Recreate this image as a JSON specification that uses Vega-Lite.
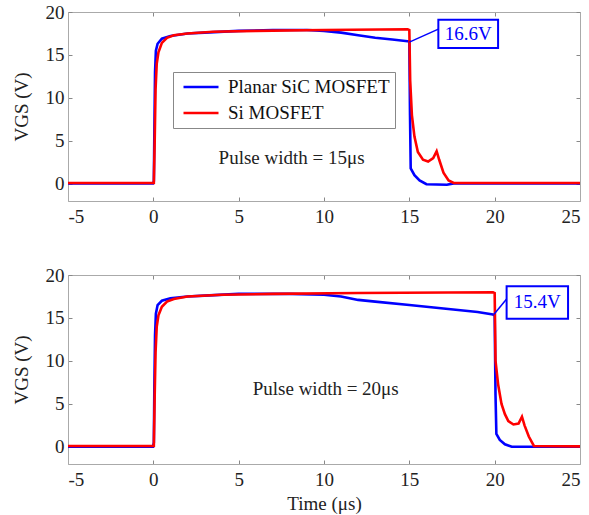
{
  "$schema": "https://vega.github.io/schema/vega-lite/v6.json",
  "background": "white",
  "padding": {"left": 12, "top": 3, "right": 5, "bottom": 5},
  "config": {
    "font": "Liberation Serif",
    "view": {"stroke": null},
    "axis": {
      "labelFont": "Liberation Serif", "labelFontSize": 19, "labelColor": "#222",
      "titleFont": "Liberation Serif", "titleFontSize": 19, "titleFontWeight": "normal", "titleColor": "#222",
      "domainColor": "#aaa", "tickColor": "#888", "tickSize": -4, "grid": false,
      "labelExpr": "replace(datum.label, '−', '-')"
    },
    "axisX": {"labelPadding": 10},
    "axisY": {"labelPadding": 8},
    "text": {"font": "Liberation Serif"}
  },
  "datasets": {
    "p15": [
      {"series": "Planar SiC MOSFET", "t": -5, "v": 0.05},
      {"series": "Planar SiC MOSFET", "t": -0.02, "v": 0.05},
      {"series": "Planar SiC MOSFET", "t": 0.03, "v": 0.3},
      {"series": "Planar SiC MOSFET", "t": 0.06, "v": 6},
      {"series": "Planar SiC MOSFET", "t": 0.1, "v": 13},
      {"series": "Planar SiC MOSFET", "t": 0.15, "v": 15.5},
      {"series": "Planar SiC MOSFET", "t": 0.25, "v": 16.3},
      {"series": "Planar SiC MOSFET", "t": 0.5, "v": 16.9},
      {"series": "Planar SiC MOSFET", "t": 1, "v": 17.2},
      {"series": "Planar SiC MOSFET", "t": 2, "v": 17.5},
      {"series": "Planar SiC MOSFET", "t": 3, "v": 17.6},
      {"series": "Planar SiC MOSFET", "t": 5, "v": 17.8},
      {"series": "Planar SiC MOSFET", "t": 7, "v": 17.9},
      {"series": "Planar SiC MOSFET", "t": 9, "v": 17.9},
      {"series": "Planar SiC MOSFET", "t": 10, "v": 17.8},
      {"series": "Planar SiC MOSFET", "t": 11, "v": 17.6},
      {"series": "Planar SiC MOSFET", "t": 12, "v": 17.3},
      {"series": "Planar SiC MOSFET", "t": 13, "v": 17.0},
      {"series": "Planar SiC MOSFET", "t": 14, "v": 16.8},
      {"series": "Planar SiC MOSFET", "t": 14.9, "v": 16.6},
      {"series": "Planar SiC MOSFET", "t": 15.0, "v": 16.6},
      {"series": "Planar SiC MOSFET", "t": 15.04, "v": 8},
      {"series": "Planar SiC MOSFET", "t": 15.08, "v": 1.8},
      {"series": "Planar SiC MOSFET", "t": 15.3, "v": 1.0},
      {"series": "Planar SiC MOSFET", "t": 15.6, "v": 0.4},
      {"series": "Planar SiC MOSFET", "t": 16.0, "v": -0.05},
      {"series": "Planar SiC MOSFET", "t": 17.2, "v": -0.1},
      {"series": "Planar SiC MOSFET", "t": 17.6, "v": 0.05},
      {"series": "Planar SiC MOSFET", "t": 25, "v": 0.05},
      {"series": "Si MOSFET", "t": -5, "v": 0.1},
      {"series": "Si MOSFET", "t": 0.03, "v": 0.1},
      {"series": "Si MOSFET", "t": 0.08, "v": 5},
      {"series": "Si MOSFET", "t": 0.13, "v": 11},
      {"series": "Si MOSFET", "t": 0.2, "v": 14},
      {"series": "Si MOSFET", "t": 0.3, "v": 15.3},
      {"series": "Si MOSFET", "t": 0.5, "v": 16.4},
      {"series": "Si MOSFET", "t": 0.8, "v": 17.0},
      {"series": "Si MOSFET", "t": 1.2, "v": 17.3},
      {"series": "Si MOSFET", "t": 2, "v": 17.5},
      {"series": "Si MOSFET", "t": 3.5, "v": 17.7},
      {"series": "Si MOSFET", "t": 6, "v": 17.8},
      {"series": "Si MOSFET", "t": 10, "v": 17.9},
      {"series": "Si MOSFET", "t": 14.9, "v": 18.0},
      {"series": "Si MOSFET", "t": 15.0, "v": 17.9},
      {"series": "Si MOSFET", "t": 15.05, "v": 12},
      {"series": "Si MOSFET", "t": 15.15, "v": 8},
      {"series": "Si MOSFET", "t": 15.3, "v": 5.5},
      {"series": "Si MOSFET", "t": 15.5, "v": 3.7},
      {"series": "Si MOSFET", "t": 15.8, "v": 2.8},
      {"series": "Si MOSFET", "t": 16.1, "v": 2.6},
      {"series": "Si MOSFET", "t": 16.4, "v": 3.0},
      {"series": "Si MOSFET", "t": 16.6, "v": 3.8},
      {"series": "Si MOSFET", "t": 16.75, "v": 2.8},
      {"series": "Si MOSFET", "t": 17.0, "v": 1.3},
      {"series": "Si MOSFET", "t": 17.3, "v": 0.4},
      {"series": "Si MOSFET", "t": 17.6, "v": 0.1},
      {"series": "Si MOSFET", "t": 25, "v": 0.1}
    ],
    "p20": [
      {"series": "Planar SiC MOSFET", "t": -5, "v": 0},
      {"series": "Planar SiC MOSFET", "t": -0.02, "v": 0},
      {"series": "Planar SiC MOSFET", "t": 0.03, "v": 0.5},
      {"series": "Planar SiC MOSFET", "t": 0.06, "v": 7},
      {"series": "Planar SiC MOSFET", "t": 0.1, "v": 13},
      {"series": "Planar SiC MOSFET", "t": 0.15, "v": 15.5},
      {"series": "Planar SiC MOSFET", "t": 0.25, "v": 16.5},
      {"series": "Planar SiC MOSFET", "t": 0.5, "v": 17.0},
      {"series": "Planar SiC MOSFET", "t": 1, "v": 17.3},
      {"series": "Planar SiC MOSFET", "t": 2, "v": 17.5},
      {"series": "Planar SiC MOSFET", "t": 3, "v": 17.6},
      {"series": "Planar SiC MOSFET", "t": 5, "v": 17.8},
      {"series": "Planar SiC MOSFET", "t": 8, "v": 17.8},
      {"series": "Planar SiC MOSFET", "t": 10, "v": 17.7},
      {"series": "Planar SiC MOSFET", "t": 11, "v": 17.5},
      {"series": "Planar SiC MOSFET", "t": 12, "v": 17.1},
      {"series": "Planar SiC MOSFET", "t": 13, "v": 16.9},
      {"series": "Planar SiC MOSFET", "t": 15, "v": 16.5},
      {"series": "Planar SiC MOSFET", "t": 17, "v": 16.1},
      {"series": "Planar SiC MOSFET", "t": 19, "v": 15.7},
      {"series": "Planar SiC MOSFET", "t": 19.9, "v": 15.4},
      {"series": "Planar SiC MOSFET", "t": 20.0, "v": 15.3},
      {"series": "Planar SiC MOSFET", "t": 20.05, "v": 6},
      {"series": "Planar SiC MOSFET", "t": 20.1, "v": 1.5},
      {"series": "Planar SiC MOSFET", "t": 20.3, "v": 0.8},
      {"series": "Planar SiC MOSFET", "t": 20.6, "v": 0.3},
      {"series": "Planar SiC MOSFET", "t": 21.0, "v": 0},
      {"series": "Planar SiC MOSFET", "t": 25, "v": 0},
      {"series": "Si MOSFET", "t": -5, "v": 0.1},
      {"series": "Si MOSFET", "t": 0.03, "v": 0.1},
      {"series": "Si MOSFET", "t": 0.08, "v": 6},
      {"series": "Si MOSFET", "t": 0.13, "v": 11},
      {"series": "Si MOSFET", "t": 0.2, "v": 14},
      {"series": "Si MOSFET", "t": 0.3, "v": 15.3},
      {"series": "Si MOSFET", "t": 0.5, "v": 16.3},
      {"series": "Si MOSFET", "t": 0.8, "v": 16.9},
      {"series": "Si MOSFET", "t": 1.2, "v": 17.2},
      {"series": "Si MOSFET", "t": 2, "v": 17.5},
      {"series": "Si MOSFET", "t": 4, "v": 17.7},
      {"series": "Si MOSFET", "t": 7, "v": 17.8},
      {"series": "Si MOSFET", "t": 12, "v": 17.9},
      {"series": "Si MOSFET", "t": 19.9, "v": 18.0},
      {"series": "Si MOSFET", "t": 20.0, "v": 17.9},
      {"series": "Si MOSFET", "t": 20.05, "v": 10},
      {"series": "Si MOSFET", "t": 20.2, "v": 7.3},
      {"series": "Si MOSFET", "t": 20.4, "v": 5.0},
      {"series": "Si MOSFET", "t": 20.6, "v": 3.8},
      {"series": "Si MOSFET", "t": 20.8, "v": 3.0},
      {"series": "Si MOSFET", "t": 21.1, "v": 2.6},
      {"series": "Si MOSFET", "t": 21.4, "v": 2.7},
      {"series": "Si MOSFET", "t": 21.6, "v": 3.5},
      {"series": "Si MOSFET", "t": 21.75, "v": 2.5},
      {"series": "Si MOSFET", "t": 22.0, "v": 1.2},
      {"series": "Si MOSFET", "t": 22.3, "v": 0.1},
      {"series": "Si MOSFET", "t": 25, "v": 0.05}
    ],
    "notes": [
      {"panel": 15, "x1": 16.7, "x2": 20.2, "y1": 15.8, "y2": 19.1, "tx": 18.45, "ty": 17.45, "label": "16.6V", "cx1": 15.0, "cy1": 16.5, "cx2": 16.7, "cy2": 18.0},
      {"panel": 20, "x1": 20.7, "x2": 24.3, "y1": 14.9, "y2": 18.7, "tx": 22.5, "ty": 16.8, "label": "15.4V", "cx1": 19.95, "cy1": 15.4, "cx2": 20.7, "cy2": 17.2}
    ],
    "pulse": [
      {"panel": 15, "t": 8.1, "v": 3.0, "text": "Pulse width = 15μs"},
      {"panel": 20, "t": 10.1, "v": 6.7, "text": "Pulse width = 20μs"}
    ]
  },
  "vconcat": [
    {
      "width": 512, "height": 189,
      "layer": [
        {
          "data": {"name": "p15"},
          "mark": {"type": "line", "strokeWidth": 2.6},
          "encoding": {
            "x": {"field": "t", "type": "quantitative", "scale": {"domain": [-5, 25], "nice": false},
                  "axis": {"orient": "bottom", "values": [-5, 0, 5, 10, 15, 20, 25], "title": null}},
            "y": {"field": "v", "type": "quantitative", "scale": {"domain": [-2, 20], "nice": false},
                  "axis": {"orient": "left", "values": [0, 5, 10, 15, 20], "title": "VGS (V)", "titlePadding": 14}},
            "color": {"field": "series", "type": "nominal",
                      "scale": {"domain": ["Planar SiC MOSFET", "Si MOSFET"], "range": ["#0000ff", "#ff0000"]},
                      "legend": {"orient": "none", "legendX": 105, "legendY": 60, "title": null,
                                 "strokeColor": "#888", "fillColor": "white", "padding": 5,
                                 "symbolType": "stroke", "symbolSize": 1225, "symbolStrokeWidth": 2.6,
                                 "symbolOffset": 4, "clipHeight": 20,
                                 "labelFont": "Liberation Serif", "labelFontSize": 19, "labelColor": "#111",
                                 "labelLimit": 0, "labelOffset": 8, "rowPadding": 6}}
          }
        },
        {
          "data": {"name": "notes"},
          "transform": [{"filter": "datum.panel == 15"}],
          "mark": {"type": "rule", "color": "#0000ff", "strokeWidth": 1.5},
          "encoding": {
            "x": {"field": "cx1", "type": "quantitative", "axis": {"orient": "top", "values": [-5, 0, 5, 10, 15, 20, 25], "labels": false, "title": null}},
            "x2": {"field": "cx2"},
            "y": {"field": "cy1", "type": "quantitative", "axis": {"orient": "right", "values": [0, 5, 10, 15, 20], "labels": false, "title": null}},
            "y2": {"field": "cy2"}
          }
        },
        {
          "data": {"name": "notes"},
          "transform": [{"filter": "datum.panel == 15"}],
          "mark": {"type": "rect", "fill": "white", "stroke": "#0000ff", "strokeWidth": 2},
          "encoding": {
            "x": {"field": "x1", "type": "quantitative", "axis": null},
            "x2": {"field": "x2"},
            "y": {"field": "y1", "type": "quantitative", "axis": null},
            "y2": {"field": "y2"}
          }
        },
        {
          "data": {"name": "notes"},
          "transform": [{"filter": "datum.panel == 15"}],
          "mark": {"type": "text", "color": "#0000ff", "fontSize": 19, "font": "Liberation Serif"},
          "encoding": {
            "x": {"field": "tx", "type": "quantitative", "axis": null},
            "y": {"field": "ty", "type": "quantitative", "axis": null},
            "text": {"field": "label"}
          }
        },
        {
          "data": {"name": "pulse"},
          "transform": [{"filter": "datum.panel == 15"}],
          "mark": {"type": "text", "color": "#222", "fontSize": 19, "font": "Liberation Serif"},
          "encoding": {
            "x": {"field": "t", "type": "quantitative", "axis": null},
            "y": {"field": "v", "type": "quantitative", "axis": null},
            "text": {"field": "text"}
          }
        }
      ],
      "resolve": {"axis": {"x": "independent", "y": "independent"}}
    },
    {
      "width": 512, "height": 189,
      "layer": [
        {
          "data": {"name": "p20"},
          "mark": {"type": "line", "strokeWidth": 2.6},
          "encoding": {
            "x": {"field": "t", "type": "quantitative", "scale": {"domain": [-5, 25], "nice": false},
                  "axis": {"orient": "bottom", "values": [-5, 0, 5, 10, 15, 20, 25], "title": "Time (μs)", "titlePadding": 5}},
            "y": {"field": "v", "type": "quantitative", "scale": {"domain": [-2, 20], "nice": false},
                  "axis": {"orient": "left", "values": [0, 5, 10, 15, 20], "title": "VGS (V)", "titlePadding": 14}},
            "color": {"field": "series", "type": "nominal",
                      "scale": {"domain": ["Planar SiC MOSFET", "Si MOSFET"], "range": ["#0000ff", "#ff0000"]},
                      "legend": null}
          }
        },
        {
          "data": {"name": "notes"},
          "transform": [{"filter": "datum.panel == 20"}],
          "mark": {"type": "rule", "color": "#0000ff", "strokeWidth": 1.5},
          "encoding": {
            "x": {"field": "cx1", "type": "quantitative", "axis": {"orient": "top", "values": [-5, 0, 5, 10, 15, 20, 25], "labels": false, "title": null}},
            "x2": {"field": "cx2"},
            "y": {"field": "cy1", "type": "quantitative", "axis": {"orient": "right", "values": [0, 5, 10, 15, 20], "labels": false, "title": null}},
            "y2": {"field": "cy2"}
          }
        },
        {
          "data": {"name": "notes"},
          "transform": [{"filter": "datum.panel == 20"}],
          "mark": {"type": "rect", "fill": "white", "stroke": "#0000ff", "strokeWidth": 2},
          "encoding": {
            "x": {"field": "x1", "type": "quantitative", "axis": null},
            "x2": {"field": "x2"},
            "y": {"field": "y1", "type": "quantitative", "axis": null},
            "y2": {"field": "y2"}
          }
        },
        {
          "data": {"name": "notes"},
          "transform": [{"filter": "datum.panel == 20"}],
          "mark": {"type": "text", "color": "#0000ff", "fontSize": 19, "font": "Liberation Serif"},
          "encoding": {
            "x": {"field": "tx", "type": "quantitative", "axis": null},
            "y": {"field": "ty", "type": "quantitative", "axis": null},
            "text": {"field": "label"}
          }
        },
        {
          "data": {"name": "pulse"},
          "transform": [{"filter": "datum.panel == 20"}],
          "mark": {"type": "text", "color": "#222", "fontSize": 19, "font": "Liberation Serif"},
          "encoding": {
            "x": {"field": "t", "type": "quantitative", "axis": null},
            "y": {"field": "v", "type": "quantitative", "axis": null},
            "text": {"field": "text"}
          }
        }
      ],
      "resolve": {"axis": {"x": "independent", "y": "independent"}}
    }
  ],
  "spacing": 74,
  "bounds": "flush",
  "resolve": {"scale": {"color": "independent"}}
}
